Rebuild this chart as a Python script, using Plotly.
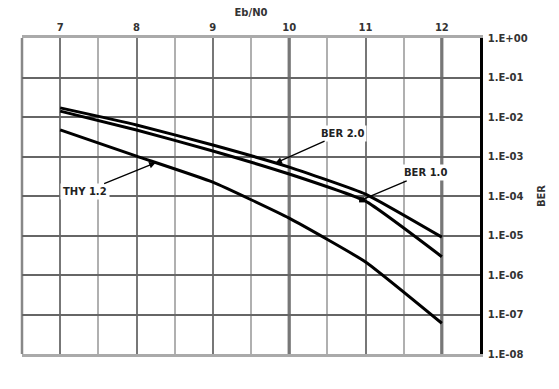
import numpy as np
import plotly.graph_objects as go

# ---- data ----
ebn0 = [7, 8, 9, 10, 11, 12]
ber_20 = [1.70e-2, 6.3e-3, 1.95e-3, 5.4e-4, 1.12e-4, 9.1e-6]
ber_10 = [1.41e-2, 4.7e-3, 1.38e-3, 3.6e-4, 7.4e-5, 2.9e-6]
thy_12 = [4.7e-3, 1.02e-3, 2.24e-4, 2.75e-5, 2.14e-6, 6.0e-8]

x_ticks = [7, 8, 9, 10, 11, 12]
y_tickvals = [1e0, 1e-1, 1e-2, 1e-3, 1e-4, 1e-5, 1e-6, 1e-7, 1e-8]
y_ticktext = ["1.E+00", "1.E-01", "1.E-02", "1.E-03", "1.E-04",
              "1.E-05", "1.E-06", "1.E-07", "1.E-08"]
emph_x = [10, 12]      # darker vertical grid lines
emph_y = [1e-5]        # black horizontal grid line

# label anchor positions (Eb/N0 where each arrow touches its curve)
labels = [("THY 1.2", thy_12, 8.25, -71, 29, 2),
          ("BER 2.0", ber_20, 9.82, 67, -30, 2),
          ("BER 1.0", ber_10, 10.95, 64, -27, 7)]

FONT = "DejaVu Sans"
TXT = dict(family=FONT, size=10, color="#333", weight="bold")

fig = go.Figure()
for ys in (ber_20, ber_10, thy_12):
    fig.add_trace(go.Scatter(x=ebn0, y=ys, mode="lines",
                             line=dict(color="black", width=3, shape="spline", smoothing=0.4),
                             showlegend=False, hoverinfo="skip"))

shapes = []
for xv in emph_x:
    shapes.append(dict(type="line", xref="x", yref="paper", x0=xv, x1=xv, y0=0, y1=1,
                       line=dict(color="#555", width=3), layer="below"))
for yv in emph_y:
    shapes.append(dict(type="line", xref="paper", yref="y", x0=0, x1=1,
                       y0=np.log10(yv), y1=np.log10(yv),
                       line=dict(color="black", width=2), layer="below"))
# left border
shapes.append(dict(type="line", xref="paper", yref="paper", x0=0, x1=0, y0=0, y1=1,
                   line=dict(color="#888", width=2.5), layer="below"))

annotations = []
for text, series, xt, ax, ay, head in labels:
    yt = 10 ** np.interp(xt, ebn0, np.log10(series))
    annotations.append(dict(x=xt, y=np.log10(yt), xref="x", yref="y", text=text,
                            showarrow=True, ax=ax, ay=ay, arrowhead=head, arrowsize=1,
                            arrowwidth=1.3, arrowcolor="black", bgcolor="white",
                            font=dict(family=FONT, size=10, color="#222", weight="bold"),
                            borderpad=2))

fig.update_layout(
    width=559, height=389,
    margin=dict(l=22, r=79, t=38, b=35),
    paper_bgcolor="white", plot_bgcolor="white",
    shapes=shapes, annotations=annotations,
    xaxis=dict(side="top", range=[6.5, 12.5], tickvals=x_ticks,
               tickfont=TXT,
               showgrid=True, gridcolor="#777", gridwidth=2,
               minor=dict(dtick=0.5, tick0=6.5, showgrid=True, gridcolor="#b0b0b0", gridwidth=2),
               showline=True, linecolor="#aaa", linewidth=3, mirror=True,
               zeroline=False, ticks="",
               title=dict(text="Eb/N0", font=TXT, standoff=4)),
    yaxis=dict(side="right", type="log", range=[-8, 0], tickvals=y_tickvals, ticktext=y_ticktext,
               tickfont=TXT,
               showgrid=True, gridcolor="#666", gridwidth=2,
               showline=True, linecolor="black", linewidth=2.5,
               zeroline=False, ticks="outside", ticklen=3, tickcolor="white",
               title=dict(text="BER", font=TXT, standoff=12)),
)

fig.write_html("out.html")
